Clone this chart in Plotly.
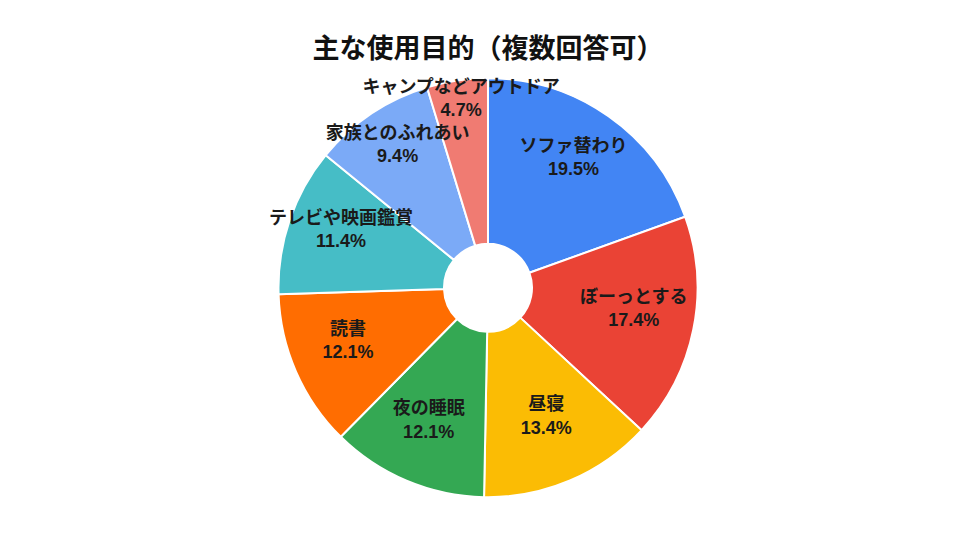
import plotly.graph_objects as go

title = "主な使用目的（複数回答可）"
labels = ["ソファ替わり", "ぼーっとする", "昼寝", "夜の睡眠", "読書",
          "テレビや映画鑑賞", "家族とのふれあい", "キャンプなどアウトドア"]
shares = [19.5, 17.4, 13.4, 12.1, 12.1, 11.4, 9.4, 4.7]
colors = ["#4285F4", "#EA4335", "#FBBC04", "#34A853", "#FF6D01",
          "#46BDC6", "#7BAAF7", "#F07B72"]

font_family = "Liberation Sans, Arial, Noto Sans CJK JP, sans-serif"

fig = go.Figure()
# coloured donut, no text
fig.add_trace(
    go.Pie(
        labels=labels,
        values=shares,
        textinfo="none",
        marker=dict(colors=colors, line=dict(color="white", width=2)),
        hole=0.21,
        sort=False,
        direction="clockwise",
        rotation=0,
        showlegend=False,
        domain=dict(x=[0, 1], y=[0.094, 0.87]),
    )
)
# transparent copy on top that carries the labels, so they can spill over neighbours
fig.add_trace(
    go.Pie(
        labels=labels,
        values=shares,
        text=[f"{v:.1f}%" for v in shares],
        texttemplate="<b>%{label}</b><br><b>%{text}</b>",
        textposition="inside",
        insidetextorientation="horizontal",
        textfont=dict(family=font_family, size=18, color="#1a1a1a"),
        marker=dict(colors=["rgba(0,0,0,0)"] * len(shares), line=dict(width=0)),
        hole=0.42,
        sort=False,
        direction="clockwise",
        rotation=0,
        showlegend=False,
        hoverinfo="skip",
        domain=dict(x=[0, 1], y=[0.11, 0.886]),
    )
)

fig.update_layout(
    width=960, height=540,
    paper_bgcolor="white",
    margin=dict(l=0, r=0, t=0, b=0),
    title=dict(text="<b>" + title + "</b>", x=0.5, xanchor="center", y=0.924, yanchor="middle",
               font=dict(family=font_family, size=27, color="#111111")),
    uniformtext=dict(minsize=18, mode="show"),
)

fig.write_html("out.html")
